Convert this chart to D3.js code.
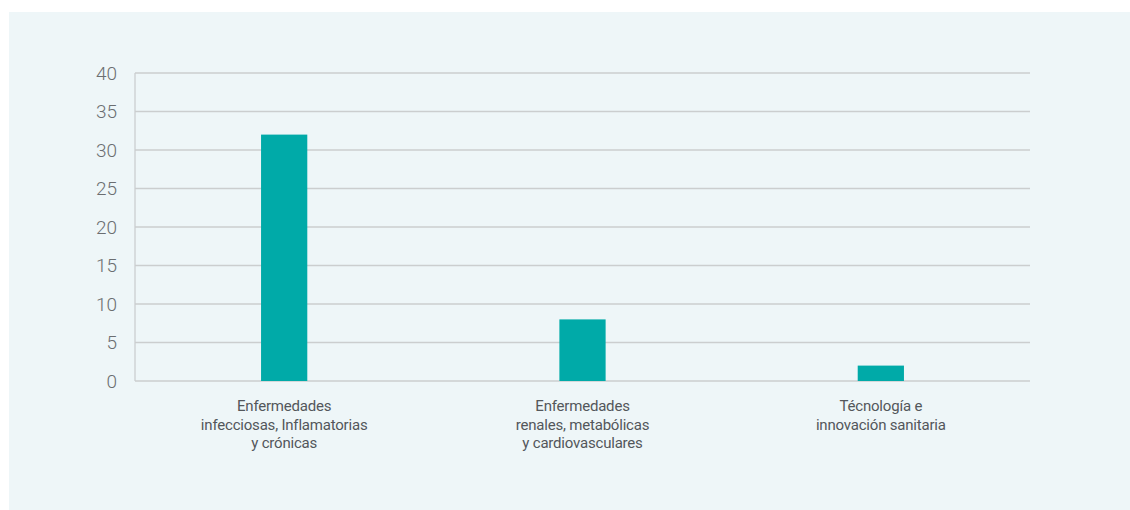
<!DOCTYPE html>
<html><head><meta charset="utf-8">
<script src="https://cdn.jsdelivr.net/npm/d3@7"></script>
<style>
html,body{margin:0;padding:0;background:#fff;}
svg{display:block;}
text{font-family:Roboto,"Noto Sans",sans-serif;}
</style></head>
<body><svg id="chart" width="1130" height="510"></svg>
<script>
const categories = [
  ["Enfermedades","infecciosas, Inflamatorias","y crónicas"],
  ["Enfermedades","renales, metabólicas","y cardiovasculares"],
  ["Técnología e","innovación sanitaria"]
];
const values = [32, 8, 2];
const yTicks = [0, 5, 10, 15, 20, 25, 30, 35, 40];

const svg = d3.select("#chart");
svg.append("rect").attr("x", 9).attr("y", 12).attr("width", 1121).attr("height", 498).attr("fill", "#eef6f8");

const m = {left: 135, right: 1030, top: 73, bottom: 381};
const x = d3.scaleBand().domain(d3.range(categories.length)).range([m.left, m.right]).paddingInner(0.845).paddingOuter(0.4225);
const y = d3.scaleLinear().domain([0, 40]).range([m.bottom, m.top]);

// gridlines
svg.append("g").selectAll("line").data(yTicks).join("line")
  .attr("x1", m.left).attr("x2", m.right)
  .attr("y1", d => y(d)).attr("y2", d => y(d))
  .attr("stroke", "#cbcecf").attr("stroke-width", 1.3);
svg.append("line").attr("x1", m.left).attr("x2", m.left).attr("y1", m.top).attr("y2", m.bottom)
  .attr("stroke", "#cbcecf").attr("stroke-width", 1.3);

// y tick labels
svg.append("g").selectAll("text").data(yTicks).join("text")
  .attr("x", 117).attr("y", d => y(d)).attr("dy", "0.36em")
  .attr("text-anchor", "end").attr("font-size", 19).attr("font-weight", 300)
  .attr("fill", "#6b6e71").text(d => d);

// bars
svg.append("g").selectAll("rect").data(values).join("rect")
  .attr("x", (d, i) => x(i)).attr("width", x.bandwidth())
  .attr("y", d => y(d)).attr("height", d => y(0) - y(d))
  .attr("fill", "#00aaa8");

// category labels
const lab = svg.append("g").selectAll("text").data(categories).join("text")
  .attr("x", (d, i) => x(i) + x.bandwidth() / 2).attr("y", 411)
  .attr("text-anchor", "middle").attr("font-size", 15).attr("font-weight", 400)
  .attr("fill", "#53575b").attr("letter-spacing", -0.2);
lab.selectAll("tspan").data(d => d).join("tspan")
  .attr("x", function() { return d3.select(this.parentNode).attr("x"); })
  .attr("dy", (d, i) => i === 0 ? 0 : 18.5).text(d => d);
</script></body></html>
